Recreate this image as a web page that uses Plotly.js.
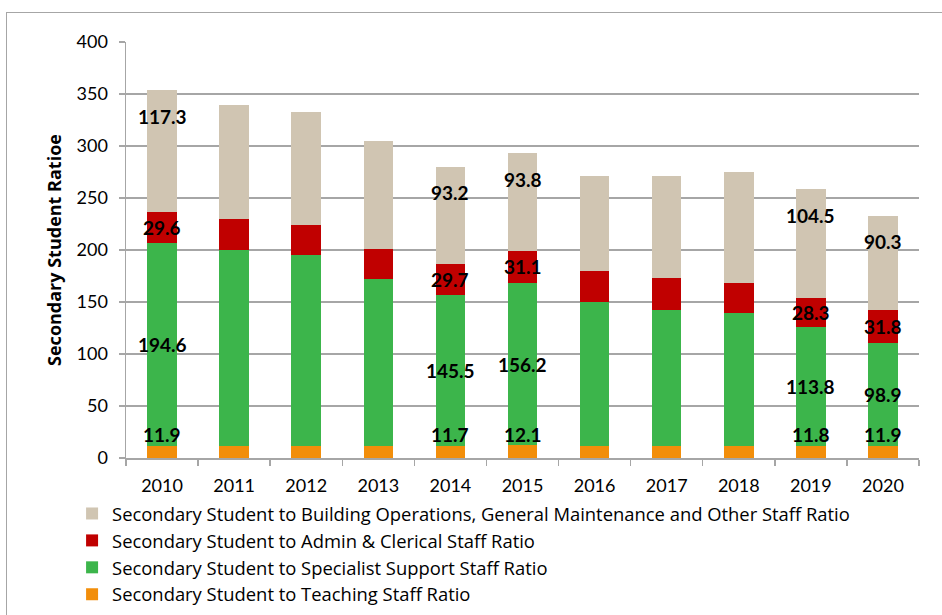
<!DOCTYPE html>
<html>
<head>
<meta charset="utf-8">
<script src="https://cdn.plot.ly/plotly-3.0.1.min.js"></script>
<style>
  body { margin: 0; overflow: hidden; background: #fff; }
  #frame { position: absolute; left: 6px; top: 12px; width: 1000px; height: 1000px; border: 1px solid #a6a6a6; }
  #chart { position: absolute; left: 0; top: 0; width: 942px; height: 615px; }
</style>
</head>
<body>
<div id="frame"></div>
<div id="chart"></div>
<script>
// годы и значения по сегментам (снизу вверх)
const years = ['2010', '2011', '2012', '2013', '2014', '2015', '2016', '2017', '2018', '2019', '2020'];
const teaching = [11.9, 11.9, 11.9, 11.9, 11.7, 12.1, 12.0, 12.0, 12.0, 11.8, 11.9];
const specialist = [194.6, 188.1, 183.3, 160.2, 145.5, 156.2, 138.3, 130.3, 127.4, 113.8, 98.9];
const admin = [29.6, 29.8, 28.8, 28.9, 29.7, 31.1, 29.8, 30.8, 28.6, 28.3, 31.8];
const building = [117.3, 109.3, 108.4, 104.1, 93.2, 93.8, 90.8, 98.4, 107.0, 104.5, 90.3];
const labelledYears = ['2010', '2014', '2015', '2019', '2020']; // подписи только у этих лет

const names = [
    'Secondary Student to Teaching Staff Ratio',
    'Secondary Student to Specialist Support Staff Ratio',
    'Secondary Student to Admin &amp; Clerical Staff Ratio',
    'Secondary Student to Building Operations, General Maintenance and Other Staff Ratio'
];
const colors = ['#F28E0A', '#3CB54B', '#C00000', '#D0C5B2'];
const series = [teaching, specialist, admin, building];

const font = 'Lato, "Open Sans", sans-serif';
const wideFont = '"Open Sans", Lato, sans-serif';

const data = series.map((vals, i) => ({
    type: 'bar',
    x: years,
    y: vals,
    name: names[i],
    marker: { color: colors[i] },
    hoverinfo: 'skip'
}));

// подписи значений: середина сегмента, у верхнего — чуть ниже верха, у нижнего — над сегментом
const annotations = [];
years.forEach((yr, j) => {
    if (!labelledYears.includes(yr)) return;
    let base = 0;
    series.forEach((vals, i) => {
        const v = vals[j];
        let y = base + v / 2;
        if (i === 0) y = 23;
        if (i === series.length - 1) y = base + v - 25;
        annotations.push({
            x: j, y: y, xref: 'x', yref: 'y', // индекс категории, а не строка года
            text: v.toFixed(1), showarrow: false,
            font: { family: font, size: 19, color: '#000', weight: 'bold' }
        });
        base += v;
    });
});

const layout = {
    width: 942,
    height: 615,
    margin: { l: 126, r: 23, t: 42, b: 157, pad: 0, autoexpand: false },
    paper_bgcolor: 'rgba(0,0,0,0)',
    plot_bgcolor: 'rgba(0,0,0,0)',
    barmode: 'stack',
    bargap: 0.59,
    font: { family: font, size: 18, color: '#000' },
    xaxis: {
        type: 'category',
        range: [-0.5, 10.5],
        tickson: 'boundaries',
        ticks: 'outside',
        ticklen: 6,
        tickcolor: '#a6a6a6',
        tickwidth: 1.5,
        showline: true,
        linecolor: '#a6a6a6',
        linewidth: 1.5,
        showgrid: false,
        ticklabelstandoff: 11,
        tickfont: { family: font, size: 18, color: '#000' }
    },
    yaxis: {
        range: [0, 400],
        dtick: 50,
        ticks: 'outside',
        ticklen: 6,
        tickcolor: '#a6a6a6',
        tickwidth: 1.5,
        showline: true,
        linecolor: '#a6a6a6',
        linewidth: 1.5,
        gridcolor: '#a6a6a6',
        gridwidth: 1.5,
        zeroline: false,
        ticklabelstandoff: 7,
        tickfont: { family: font, size: 18, color: '#000' },
        title: { text: 'Secondary Student Ratioe', font: { family: wideFont, size: 18, color: '#000', weight: 'bold' }, standoff: 10 }
    },
    showlegend: true,
    legend: {
        orientation: 'v',
        traceorder: 'reversed',
        x: -0.068,
        xanchor: 'left',
        y: -0.089,
        yanchor: 'top',
        font: { family: wideFont, size: 18.4, color: '#000' },
        tracegroupgap: 0,
        bgcolor: 'rgba(0,0,0,0)'
    },
    annotations: annotations
};

Plotly.newPlot('chart', data, layout, { displayModeBar: false, staticPlot: true });
</script>
</body>
</html>
